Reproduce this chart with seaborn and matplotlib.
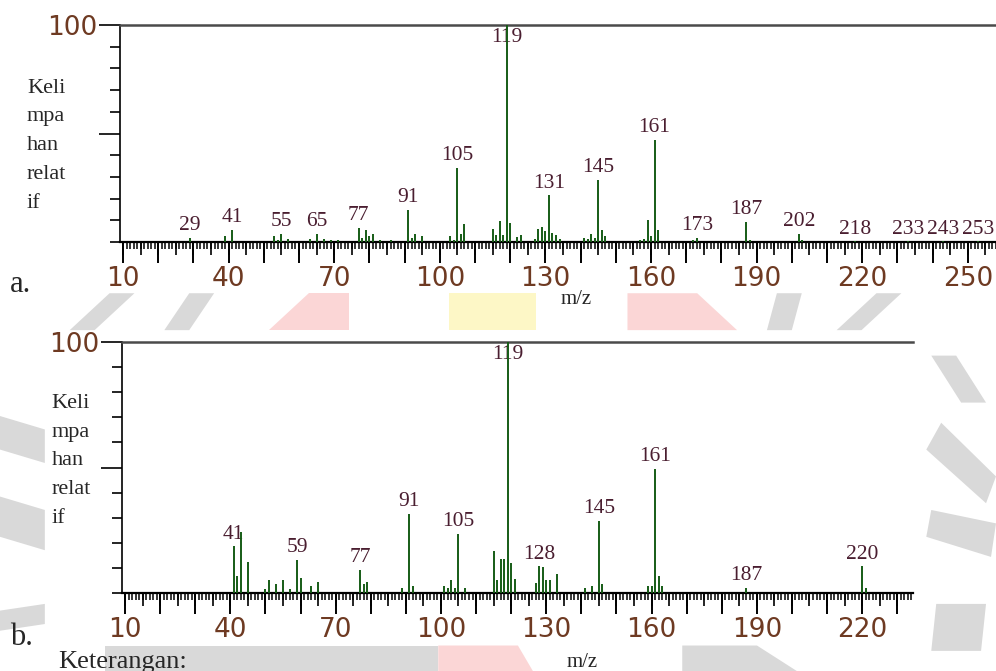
"""
Mass spectra (relative abundance vs m/z) for two samples, panels a. and b.
"""

import matplotlib
matplotlib.use("Agg")
import matplotlib.pyplot as plt
import matplotlib.ticker as mticker
from matplotlib.patches import Polygon
import seaborn as sns

# ----------------------------
# Data
# ----------------------------
MZ_A = [29, 39, 41, 53, 54, 55, 57, 63, 65, 67, 69, 71, 77, 78, 79, 80, 81, 83, 86,
        91, 92, 93, 95, 103, 104, 105, 106, 107, 115, 116, 117, 118, 119, 120, 122,
        123, 127, 128, 129, 130, 131, 132, 133, 134, 141, 142, 143, 144, 145, 146,
        147, 157, 158, 159, 160, 161, 162, 172, 173, 187, 188, 202, 203, 218, 233,
        243, 253]
INT_A = [2.0, 3.0, 5.7, 2.6, 1.0, 3.8, 1.2, 1.2, 3.8, 1.5, 1.0, 1.0, 6.6, 2.0, 5.7,
         3.0, 3.8, 1.0, 1.0, 14.9, 2.0, 3.8, 2.9, 2.9, 1.0, 34.0, 3.7, 8.4, 6.0, 3.2,
         9.7, 3.2, 100.0, 8.8, 2.2, 3.2, 1.2, 6.0, 6.9, 5.0, 21.5, 4.1, 3.2, 1.2, 2.0,
         1.2, 3.8, 2.0, 28.8, 5.7, 3.0, 1.0, 1.5, 10.3, 3.0, 46.9, 5.7, 1.0, 2.0, 9.4,
         1.0, 3.8, 1.0, 0.3, 0.3, 0.3, 0.3]
LABELS_A = [29, 41, 55, 65, 77, 91, 105, 119, 131, 145, 161, 173, 187, 202, 218,
            233, 243, 253]

MZ_B = [41, 42, 43, 45, 50, 51, 53, 55, 57, 59, 60, 63, 65, 77, 78, 79, 89, 91, 92,
        101, 102, 103, 104, 105, 107, 115, 116, 117, 118, 119, 120, 121, 127, 128,
        129, 130, 131, 133, 141, 143, 145, 146, 159, 160, 161, 162, 163, 187, 220, 221]
INT_B = [18.6, 6.6, 24.5, 12.4, 1.8, 5.0, 3.5, 5.1, 1.8, 13.2, 5.8, 2.7, 4.4, 9.3,
         3.7, 4.4, 2.0, 31.4, 2.7, 2.7, 2.0, 5.3, 2.0, 23.5, 2.0, 16.7, 5.0, 13.7,
         13.7, 100.0, 12.0, 5.7, 4.1, 10.6, 10.3, 5.0, 5.2, 7.4, 2.0, 2.7, 28.9, 3.6,
         2.7, 2.7, 49.5, 6.6, 2.7, 2.0, 10.6, 2.0]
LABELS_B = [41, 59, 77, 91, 105, 119, 128, 145, 161, 187, 220]

XLIM_A = (9.15, 258)
XLIM_B = (9.15, 234.5)
LABELLED_TICKS_A = [10, 40, 70, 100, 130, 160, 190, 220, 250]
LABELLED_TICKS_B = [10, 40, 70, 100, 130, 160, 190, 220]

YLABEL = "Keli\nmpa\nhan\nrelat\nif"

# ----------------------------
# Style
# ----------------------------
PEAK_COLOR = "#165c16"
TICK_TEXT = "#6e3a22"
PEAK_TEXT = "#4a1e30"
SERIF = ["Liberation Serif", "DejaVu Serif"]
WM_GRAY = "#d9d9d9"
WM_PINK = "#fbd6d6"
WM_YELLOW = "#fdf7c6"

sns.set_style("ticks")
plt.rcParams["font.family"] = ["DejaVu Sans"]


def draw_spectrum(ax, mz, inten, labels, xlim, labelled):
    ax.vlines(mz, 0, inten, color=PEAK_COLOR, lw=1.4, zorder=3)
    lookup = dict(zip(mz, inten))
    for m in labels:
        h = lookup[m]
        if h > 85:
            ax.annotate(str(m), (m, 100), xytext=(0, -2), textcoords="offset points",
                        ha="center", va="top", fontsize=15.5, color=PEAK_TEXT,
                        family=SERIF, zorder=2)
        else:
            ax.annotate(str(m), (m, h), xytext=(0, 2), textcoords="offset points",
                        ha="center", va="bottom", fontsize=15.5, color=PEAK_TEXT,
                        family=SERIF, zorder=2)

    ax.set_xlim(xlim)
    ax.set_ylim(0, 100)

    # spines: left, top, bottom
    ax.spines["right"].set_visible(False)
    ax.spines["top"].set_color("#4a4a4a")
    ax.spines["top"].set_linewidth(1.8)
    ax.spines["left"].set_linewidth(1.2)
    ax.spines["bottom"].set_linewidth(1.6)
    for s in ["left", "bottom"]:
        ax.spines[s].set_color("black")

    # x ticks: long every 10 (labels every 30), short every 1
    ax.xaxis.set_major_locator(mticker.MultipleLocator(10))
    ax.xaxis.set_minor_locator(mticker.MultipleLocator(1))
    ax.xaxis.set_major_formatter(
        mticker.FuncFormatter(lambda v, p: f"{v:.0f}" if round(v) in labelled else ""))
    ax.tick_params(axis="x", which="major", length=15, width=1.4, direction="out",
                   labelsize=19, labelcolor=TICK_TEXT, pad=2, color="black")
    ax.tick_params(axis="x", which="minor", length=5, width=1.1, direction="out",
                   color="black")
    # medium ticks every 5
    sec = ax.secondary_xaxis("bottom")
    sec.xaxis.set_major_locator(mticker.MultipleLocator(5))
    sec.xaxis.set_major_formatter(mticker.NullFormatter())
    sec.tick_params(length=9, width=1.2, direction="out", color="black")
    sec.spines["bottom"].set_visible(False)

    # y ticks: every 10, longer at 50 and 100, only "100" labelled
    ax.yaxis.set_major_locator(mticker.FixedLocator([50, 100]))
    ax.yaxis.set_major_formatter(mticker.FixedFormatter(["", "100"]))
    ax.yaxis.set_minor_locator(mticker.MultipleLocator(10))
    ax.tick_params(axis="y", which="major", length=15, width=1.2, direction="out",
                   labelsize=19, labelcolor=TICK_TEXT, pad=1, color="black")
    ax.tick_params(axis="y", which="minor", length=7, width=1.2, direction="out",
                   color="black")
    ax.set_facecolor("white")


fig = plt.figure(figsize=(9.96, 6.71), dpi=100)

# faint watermark (logo) shapes showing around the plots
WM = [
    # band between the two panels
    (WM_GRAY, [(0.07, 0.508), (0.095, 0.508), (0.135, 0.563), (0.11, 0.563)]),
    (WM_GRAY, [(0.165, 0.508), (0.19, 0.508), (0.215, 0.563), (0.19, 0.563)]),
    (WM_PINK, [(0.27, 0.508), (0.35, 0.508), (0.35, 0.563), (0.31, 0.563)]),
    (WM_YELLOW, [(0.451, 0.508), (0.538, 0.508), (0.538, 0.563), (0.451, 0.563)]),
    (WM_PINK, [(0.63, 0.508), (0.74, 0.508), (0.70, 0.563), (0.63, 0.563)]),
    (WM_GRAY, [(0.77, 0.508), (0.795, 0.508), (0.805, 0.563), (0.78, 0.563)]),
    (WM_GRAY, [(0.84, 0.508), (0.865, 0.508), (0.905, 0.563), (0.88, 0.563)]),
    # strip at the very bottom
    (WM_GRAY, [(0.105, 0.0), (0.44, 0.0), (0.44, 0.038), (0.105, 0.038)]),
    (WM_PINK, [(0.44, 0.0), (0.535, 0.0), (0.52, 0.038), (0.44, 0.038)]),
    (WM_GRAY, [(0.685, 0.0), (0.80, 0.0), (0.76, 0.038), (0.685, 0.038)]),
    # left margin of panel b
    (WM_GRAY, [(0.0, 0.06), (0.045, 0.07), (0.045, 0.10), (0.0, 0.09)]),
    (WM_GRAY, [(0.0, 0.20), (0.045, 0.18), (0.045, 0.24), (0.0, 0.26)]),
    (WM_GRAY, [(0.0, 0.33), (0.045, 0.31), (0.045, 0.36), (0.0, 0.38)]),
    # right margin of panel b
    (WM_GRAY, [(0.935, 0.47), (0.96, 0.47), (0.99, 0.40), (0.965, 0.40)]),
    (WM_GRAY, [(0.93, 0.33), (0.99, 0.25), (1.0, 0.29), (0.945, 0.37)]),
    (WM_GRAY, [(0.93, 0.20), (0.995, 0.17), (1.0, 0.22), (0.935, 0.24)]),
    (WM_GRAY, [(0.935, 0.03), (0.985, 0.03), (0.99, 0.10), (0.94, 0.10)]),
]
for col, pts in WM:
    fig.patches.append(Polygon(pts, closed=True, transform=fig.transFigure,
                               facecolor=col, edgecolor="none", zorder=0))

ax_a = fig.add_axes([0.1205, 0.6393, 0.8795, 0.3234])
ax_b = fig.add_axes([0.1225, 0.1162, 0.7942, 0.3740])

draw_spectrum(ax_a, MZ_A, INT_A, LABELS_A, XLIM_A, LABELLED_TICKS_A)
draw_spectrum(ax_b, MZ_B, INT_B, LABELS_B, XLIM_B, LABELLED_TICKS_B)

# side labels
fig.text(0.027, 0.883, YLABEL, family=SERIF, fontsize=16, va="top", ha="left",
         linespacing=1.7)
fig.text(0.052, 0.413, YLABEL, family=SERIF, fontsize=16, va="top", ha="left",
         linespacing=1.7,
         bbox=dict(facecolor="white", edgecolor="none", pad=5))
fig.text(0.010, 0.565, "a.", family=SERIF, fontsize=22, va="baseline", ha="left")
fig.text(0.010, 0.039, "b.", family=SERIF, fontsize=22, va="baseline", ha="left")
fig.text(0.578, 0.553, "m/z", family=SERIF, fontsize=15, va="center", ha="center")
fig.text(0.584, 0.012, "m/z", family=SERIF, fontsize=15, va="center", ha="center")
fig.text(0.058, 0.004, "Keterangan:", family=SERIF, fontsize=19, va="baseline",
         ha="left")

fig.savefig("out.png", dpi=100, facecolor="white")
